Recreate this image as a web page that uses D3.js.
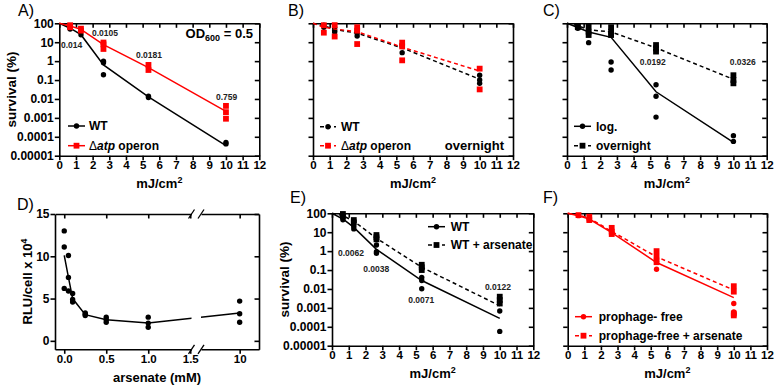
<!DOCTYPE html>
<html>
<head>
<meta charset="utf-8">
<script src="https://cdn.jsdelivr.net/npm/d3@7"></script>
<style>
  body { margin: 0; background: #fff; }
  svg text { font-family: "Liberation Sans", Arial, sans-serif; }
</style>
</head>
<body>
<svg id="fig" width="775" height="386"></svg>
<script>
// UV doses (mJ/cm2) shared by the survival panels
const doses = [0.65, 1.3, 2.65, 5.35, 10];
const lineDoses = [0, 0.65, 1.3, 2.65, 5.35, 10];
const doseTicks = d3.range(0, 13);
const survTicks = [100, 10, 1, 0.1, 0.01, 0.001, 0.0001, 0.00001];
const survTickLabels = ['100', '10', '1', '0.1', '0.01', '0.001', '0.0001', '0.00001'];

// A) log phase, OD600 = 0.5
const aWtPts = [[60, 50], [25], [1.0, 0.83, 0.19], [0.014, 0.012], [0.00005, 0.000042]];
const aWtMean = [100, 55, 25, 0.63, 0.013, 0.000034];
const aAtpPts = [[79, 62], [52, 41], [9.6, 7.7, 4.4], [0.63, 0.34], [0.0043, 0.002, 0.0009]];
const aAtpMean = [100, 72, 48, 7.5, 0.45, 0.0022];

// B) overnight
const bWtPts = [[80, 62], [59, 41, 35], [39, 30, 21], [7.7, 5.9, 2.8], [0.18, 0.1, 0.067]];
const bWtMean = [100, 72, 48, 30, 5, 0.11];
const bAtpPts = [[79, 32], [80, 20], [62, 41, 8], [9.5, 6, 1.1], [0.4, 0.032]];
const bAtpMean = [100, 62, 50, 36, 5.5, 0.3];

// C) WT log vs overnight
const cLogPts = [[60, 55], [36, 9.5], [24, 0.9, 0.34], [0.056, 0.014, 0.0011], [0.000115, 0.000057]];
const cLogMean = [100, 60, 35, 18, 0.024, 0.00005];
const cOnPts = [[70, 62], [66, 36, 24], [62, 36, 24], [7.1, 4.7, 3.2], [0.18, 0.1, 0.067]];
const cOnMean = [100, 75, 45, 35, 5, 0.11];

// D) luminescence vs arsenate
const arsConc = [0, 0.05, 0.1, 0.25, 0.5, 1, 10];
const dPts = [[13.0, 11.1, 6.2], [10.1, 7.5, 5.9], [5.6, 4.9, 4.6], [3.3, 3.15, 3.0], [2.8, 2.5, 2.2], [2.8, 2.1, 1.6], [4.7, 3.2, 2.2]];
const dMean = [10.1, 7.5, 5.0, 3.1, 2.5, 2.1, 3.3];

// E) WT +/- arsenate
const eWtPts = [[62, 45], [20, 15], [2.1, 0.93, 0.76], [0.04, 0.028, 0.0102], [0.00068, 0.000057]];
const eWtMean = [100, 50, 18, 1.24, 0.028, 0.00028];
const eArsPts = [[92, 67], [44, 33], [7.1, 5.4, 4.2], [0.19, 0.14, 0.1], [0.0039, 0.0026, 0.0017]];
const eArsMean = [100, 75, 38, 4.8, 0.14, 0.0013];

// F) prophage-free +/- arsenate
const fPfPts = [[75], [54, 44], [10.7, 8.7], [0.42, 0.28, 0.11], [0.0017, 0.0006, 0.0005]];
const fPfMean = [100, 75, 50, 9.5, 0.25, 0.0035];
const fArsPts = [[80], [66, 44], [17, 10.7, 8], [1.0, 0.5, 0.26], [0.014, 0.0072, 0.0005, 0.0004]];
const fArsMean = [100, 80, 55, 11, 0.5, 0.0088];

const RED = '#ff0000';
const svg = d3.select('#fig');

function styleAxis(g, size) {
  g.attr('font-family', '"Liberation Sans", Arial, sans-serif')
    .attr('font-size', size)
    .attr('font-weight', 'bold');
  g.selectAll('path, line').attr('stroke', '#000').attr('stroke-width', 1.6);
  g.selectAll('text').attr('fill', '#000');
}

function drawMarkers(g, xy, shape, color) {
  if (shape === 'circle') {
    g.selectAll(null).data(xy).enter().append('circle')
      .attr('cx', d => d[0]).attr('cy', d => d[1]).attr('r', 2.7).attr('fill', color);
  } else {
    g.selectAll(null).data(xy).enter().append('rect')
      .attr('x', d => d[0] - 2.9).attr('y', d => d[1] - 2.9)
      .attr('width', 5.8).attr('height', 5.8).attr('fill', color);
  }
}

function legend(g, lg, items) {
  items.forEach((s, i) => {
    const yy = lg.ys[i];
    g.append('line').attr('x1', lg.x1).attr('x2', lg.x2).attr('y1', yy).attr('y2', yy)
      .attr('stroke', s.color).attr('stroke-width', 1.5)
      .attr('stroke-dasharray', s.dashed ? '4,3' : null);
    drawMarkers(g, [[(lg.x1 + lg.x2) / 2, yy]], s.marker, s.color);
    const t = g.append('text').attr('x', lg.tx).attr('y', yy).attr('dy', '0.35em')
      .attr('font-size', 12).attr('font-weight', 'bold');
    if (s.atp) {
      t.append('tspan').attr('font-weight', 'normal').text('\u0394');
      t.append('tspan').attr('font-style', 'italic').text('atp');
      t.append('tspan').text(' operon');
    } else {
      t.text(s.label);
    }
  });
}

function xTitle(g, cx, y) {
  const t = g.append('text').attr('x', cx).attr('y', y).attr('text-anchor', 'middle')
    .attr('font-size', 13).attr('font-weight', 'bold');
  t.append('tspan').text('mJ/cm');
  t.append('tspan').attr('dy', -5).attr('font-size', 9).text('2');
}

function yTitle(g, x, cy, text) {
  g.append('text').attr('transform', `translate(${x},${cy}) rotate(-90)`)
    .attr('text-anchor', 'middle').attr('font-size', 13.5).attr('font-weight', 'bold')
    .text(text);
}

function panelLetter(x, y, text) {
  svg.append('text').attr('x', x).attr('y', y).attr('font-size', 16).text(text);
}

function survivalPanel(p) {
  const x = d3.scaleLinear().domain([0, 12]).range([p.left, p.right]);
  const y = d3.scaleLog().domain([0.00001, 100]).range([p.bottom, p.top]);
  const g = svg.append('g');

  g.append('g').attr('transform', `translate(${p.left},0)`)
    .call(d3.axisLeft(y).tickValues(survTicks).tickSize(4.5).tickSizeOuter(0).tickPadding(1)
      .tickFormat((d, i) => p.yLabels ? survTickLabels[i] : ''))
    .call(a => styleAxis(a, 12));
  g.append('g').attr('transform', `translate(${p.right},0)`)
    .call(d3.axisRight(y).tickValues(survTicks).tickSize(-4.5).tickSizeOuter(0).tickFormat(() => ''))
    .call(a => styleAxis(a, 12));
  g.append('g').attr('transform', `translate(0,${p.top})`)
    .call(d3.axisTop(x).tickValues(doseTicks).tickSize(-4.5).tickSizeOuter(0).tickFormat(() => ''))
    .call(a => styleAxis(a, 12));
  g.append('g').attr('transform', `translate(0,${p.bottom})`)
    .call(d3.axisBottom(x).tickValues(doseTicks).tickSize(4.5).tickSizeOuter(0).tickPadding(1))
    .call(a => styleAxis(a, 11.5));

  const line = d3.line().x(d => x(d[0])).y(d => y(d[1]));
  p.series.forEach(s => {
    g.append('path').datum(d3.zip(lineDoses, s.mean)).attr('d', line)
      .attr('fill', 'none').attr('stroke', s.color).attr('stroke-width', 1.5)
      .attr('stroke-dasharray', s.dashed ? '4,3' : null);
    const pts = s.pts.flatMap((vals, i) => vals.map(v => [x(doses[i]), y(v)]));
    drawMarkers(g, pts, s.marker, s.color);
  });

  (p.notes || []).forEach(n => {
    g.append('text').attr('x', x(n.dose)).attr('y', y(n.at)).attr('dy', '0.35em')
      .attr('text-anchor', 'middle').attr('font-size', 8.5).attr('font-weight', 'bold')
      .attr('fill', '#222').text(n.text);
  });

  legend(g, p.legend, p.series);
  xTitle(g, (p.left + p.right) / 2, p.bottom + 32.5);
  if (p.yLabels) yTitle(g, p.left - 43, (p.top + p.bottom) / 2, 'survival (%)');
  return g;
}

// ---------- A ----------
panelLetter(18, 16, 'A)');
const gA = survivalPanel({
  left: 59.3, right: 259.3, top: 23.3, bottom: 155.7, yLabels: true,
  series: [
    {label: 'WT', pts: aWtPts, mean: aWtMean, color: '#000', marker: 'circle', dashed: false},
    {atp: true, pts: aAtpPts, mean: aAtpMean, color: RED, marker: 'square', dashed: false}
  ],
  notes: [
    {text: '0.014', dose: 0.74, at: 7.1},
    {text: '0.0105', dose: 2.74, at: 30},
    {text: '0.0181', dose: 5.38, at: 2.1},
    {text: '0.759', dose: 10.04, at: 0.013}
  ],
  legend: {x1: 68, x2: 85, tx: 89, ys: [126, 145.7]}
});
const od = gA.append('text').attr('x', 253).attr('y', 38).attr('text-anchor', 'end')
  .attr('font-size', 13).attr('font-weight', 'bold');
od.append('tspan').text('OD');
od.append('tspan').attr('dy', 3).attr('font-size', 9).text('600');
od.append('tspan').attr('dy', -3).text(' = 0.5');

// ---------- B ----------
panelLetter(288, 16, 'B)');
const gB = survivalPanel({
  left: 313, right: 513, top: 23.3, bottom: 155.7, yLabels: false,
  series: [
    {label: 'WT', pts: bWtPts, mean: bWtMean, color: '#000', marker: 'circle', dashed: true},
    {atp: true, pts: bAtpPts, mean: bAtpMean, color: RED, marker: 'square', dashed: true}
  ],
  legend: {x1: 320, x2: 336, tx: 341, ys: [126.7, 145.7]}
});
gB.append('text').attr('x', 504).attr('y', 150).attr('text-anchor', 'end')
  .attr('font-size', 13).attr('font-weight', 'bold').text('overnight');

// ---------- C ----------
panelLetter(543, 16, 'C)');
survivalPanel({
  left: 567, right: 766.7, top: 23.3, bottom: 155.7, yLabels: false,
  series: [
    {label: 'log.', pts: cLogPts, mean: cLogMean, color: '#000', marker: 'circle', dashed: false},
    {label: 'overnight', pts: cOnPts, mean: cOnMean, color: '#000', marker: 'square', dashed: true}
  ],
  notes: [
    {text: '0.0192', dose: 5.15, at: 0.93},
    {text: '0.0326', dose: 10.56, at: 0.93}
  ],
  legend: {x1: 574, x2: 591, tx: 596, ys: [126.3, 145.7]}
});

// ---------- D ----------
panelLetter(17, 210, 'D)');
{
  const left = 55, right = 259, top = 214, bottom = 349.3, brk1 = 191.5, brk2 = 201;
  const x1 = d3.scaleLinear().domain([-0.11, 1.515]).range([left, brk1]);
  const x2 = d3.scaleLinear().domain([7.6, 11.2]).range([brk2, right]);
  const xPos = c => c <= 1.515 ? x1(c) : x2(c);
  const y = d3.scaleLinear().domain([-1, 15]).range([bottom, top]);
  const g = svg.append('g');

  g.append('g').attr('transform', `translate(${left},0)`)
    .call(d3.axisLeft(y).tickValues([0, 5, 10, 15]).tickSize(4.5).tickSizeOuter(0).tickPadding(1))
    .call(a => styleAxis(a, 12));
  g.append('g').attr('transform', `translate(${right},0)`)
    .call(d3.axisRight(y).tickValues([0, 5, 10, 15]).tickSize(-4.5).tickSizeOuter(0).tickFormat(() => ''))
    .call(a => styleAxis(a, 12));
  [[x1, [0, 0.5, 1, 1.5]], [x2, [10]]].forEach(([sc, tv]) => {
    g.append('g').attr('transform', `translate(0,${bottom})`)
      .call(d3.axisBottom(sc).tickValues(tv).tickSize(4.5).tickSizeOuter(0).tickPadding(1)
        .tickFormat(d => d < 5 ? d3.format('.1f')(d) : String(d)))
      .call(a => styleAxis(a, 11.5));
    g.append('g').attr('transform', `translate(0,${top})`)
      .call(d3.axisTop(sc).tickValues(tv).tickSize(-4.5).tickSizeOuter(0).tickFormat(() => ''))
      .call(a => styleAxis(a, 11.5));
  });
  // axis break marks
  [top, bottom].forEach(yy => {
    [brk1, brk2].forEach(bx => {
      g.append('line').attr('x1', bx - 3).attr('y1', yy + 4.5).attr('x2', bx + 3).attr('y2', yy - 4.5)
        .attr('stroke', '#000').attr('stroke-width', 1.3);
    });
  });

  const clip = svg.append('defs').append('clipPath').attr('id', 'dclip');
  clip.append('rect').attr('x', left).attr('y', top - 5).attr('width', brk1 - left).attr('height', bottom - top + 10);
  clip.append('rect').attr('x', brk2).attr('y', top - 5).attr('width', right - brk2).attr('height', bottom - top + 10);

  g.append('path').datum(d3.zip(arsConc, dMean))
    .attr('d', d3.line().x(d => xPos(d[0])).y(d => y(d[1])))
    .attr('clip-path', 'url(#dclip)')
    .attr('fill', 'none').attr('stroke', '#000').attr('stroke-width', 1.5);
  const pts = dPts.flatMap((vals, i) => vals.map(v => [xPos(arsConc[i]), y(v)]));
  drawMarkers(g, pts, 'circle', '#000');

  g.append('text').attr('x', (left + right) / 2).attr('y', 381.5).attr('text-anchor', 'middle')
    .attr('font-size', 13).attr('font-weight', 'bold').text('arsenate (mM)');
  const yl = g.append('text').attr('transform', `translate(32,${(top + bottom) / 2}) rotate(-90)`)
    .attr('text-anchor', 'middle').attr('font-size', 13).attr('font-weight', 'bold');
  yl.append('tspan').text('RLU/cell x 10');
  yl.append('tspan').attr('dy', -5).attr('font-size', 8.5).text('4');
}

// ---------- E ----------
panelLetter(290, 203, 'E)');
survivalPanel({
  left: 332, right: 533.3, top: 213.3, bottom: 345.7, yLabels: true,
  series: [
    {label: 'WT', pts: eWtPts, mean: eWtMean, color: '#000', marker: 'circle', dashed: false},
    {label: 'WT + arsenate', pts: eArsPts, mean: eArsMean, color: '#000', marker: 'square', dashed: true}
  ],
  notes: [
    {text: '0.0062', dose: 1.13, at: 0.77},
    {text: '0.0038', dose: 2.64, at: 0.117},
    {text: '0.0071', dose: 5.32, at: 0.0026},
    {text: '0.0122', dose: 9.89, at: 0.012}
  ],
  legend: {x1: 428, x2: 445, tx: 450.7, ys: [226.7, 245]}
});

// ---------- F ----------
panelLetter(543, 203, 'F)');
survivalPanel({
  left: 567.7, right: 767, top: 213.3, bottom: 345.7, yLabels: false,
  series: [
    {label: 'prophage- free', pts: fPfPts, mean: fPfMean, color: RED, marker: 'circle', dashed: false},
    {label: 'prophage-free + arsenate', pts: fArsPts, mean: fArsMean, color: RED, marker: 'square', dashed: true}
  ],
  legend: {x1: 575, x2: 592, tx: 598.7, ys: [316.7, 335.7]}
});
</script>
</body>
</html>
